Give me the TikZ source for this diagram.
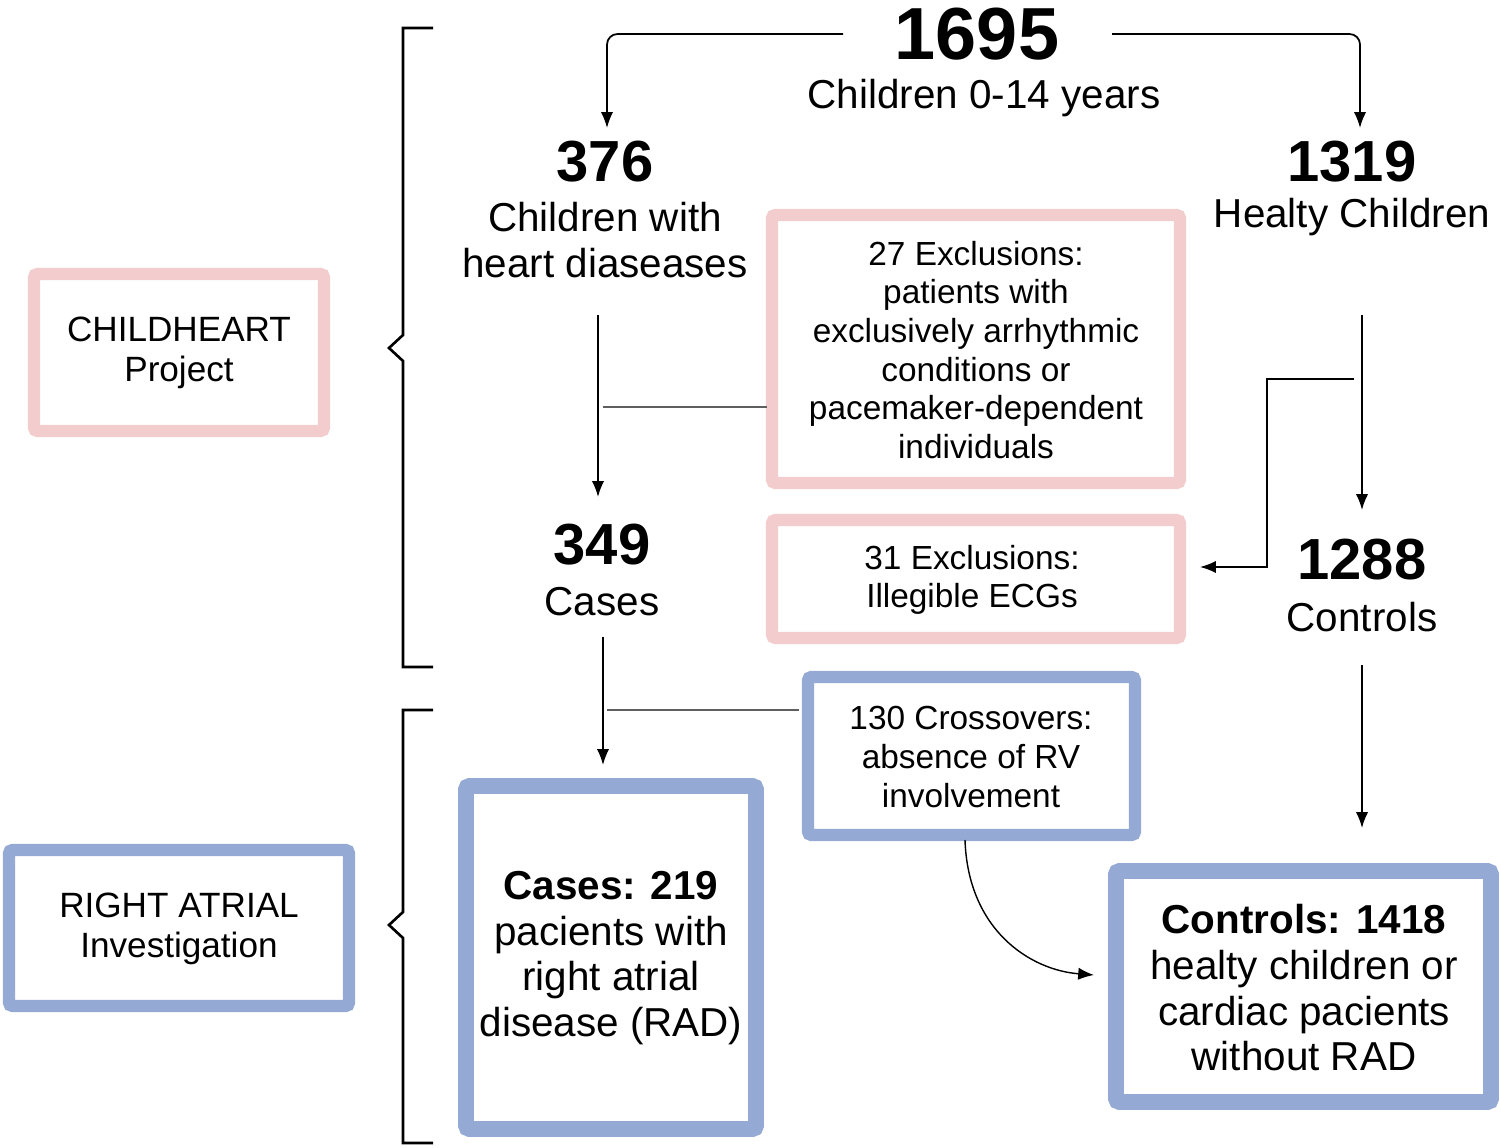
\documentclass[tikz,border=0pt]{standalone}
\usepackage{fontspec}
\setmainfont{Liberation Sans}
\usetikzlibrary{arrows.meta,positioning}
\definecolor{pinkbox}{RGB}{243,205,205}
\definecolor{bluebox}{RGB}{148,170,212}
\definecolor{lgray}{RGB}{95,95,95}
\begin{document}
\begin{tikzpicture}[x=0.02cm,y=-0.02cm,
        pinkframe/.style={draw=pinkbox, line width=7pt, rounded corners=2pt},
        blueframe/.style={draw=bluebox, line width=7pt, rounded corners=2pt},
        boxtext/.style={align=center, font=\fontsize{19}{22}\selectfont},
        sidetext/.style={align=center, font=\fontsize{20}{23}\selectfont},
        bignum/.style={font=\fontsize{33}{36}\selectfont\bfseries},
        subtext/.style={align=center, font=\fontsize{23}{26}\selectfont},
        arr/.style={-{Latex[length=9pt,width=7pt]}, line width=1pt},
        side/.style={draw=lgray, line width=1.2pt}]
    \useasboundingbox (0,0) rectangle (1501,1148);

    % frames
    \draw[pinkframe] (34,274) rectangle (324,431);
    \draw[blueframe] (9,850) rectangle (349,1006);
    \draw[pinkframe] (772,215) rectangle (1180,483);
    \draw[pinkframe] (772,520) rectangle (1180,638);
    \draw[blueframe] (808,677) rectangle (1135,835);
    \draw[blueframe, line width=9pt] (466,786) rectangle (756,1129);
    \draw[blueframe, line width=9pt] (1116,871) rectangle (1491,1102);

    % texts
    \node (childheart) [sidetext] at (179,353) {CHILDHEART\\Project};
    \node (rightatrial) [sidetext] at (179,929) {RIGHT ATRIAL\\Investigation};
    \node (total) [font=\fontsize{42}{46}\selectfont\bfseries] at (977,34) {1695};
    \node (totaltxt) [subtext] at (984,98) {Children 0-14 years};
    \node (heart) [bignum] at (605,162) {376};
    \node (hearttxt) [subtext] at (605,240) {Children with\\heart diaseases};
    \node (healthy) [bignum] at (1352,162) {1319};
    \node (healthytxt) [subtext] at (1352,217) {Healty Children};
    \node (excl27) [boxtext] at (976,350) {27 Exclusions:\\patients with\\exclusively arrhythmic\\conditions or\\pacemaker-dependent\\individuals};
    \node (cases) [bignum] at (602,545) {349};
    \node (casestxt) [subtext] at (602,602) {Cases};
    \node (excl31) [boxtext] at (972,580) {31 Exclusions:\\Illegible ECGs};
    \node (controls) [bignum] at (1362,560) {1288};
    \node (controlstxt) [subtext] at (1362,617) {Controls};
    \node (cross) [boxtext] at (971,757) {130 Crossovers:\\absence of RV\\involvement};
    \node (rad) [subtext] at (611,958) {\textbf{Cases: 219}\\pacients with\\right atrial\\disease (RAD)};
    \node (norad) [subtext] at (1304,988) {\textbf{Controls: 1418}\\healty children or\\cardiac pacients\\without RAD};

    % brackets
    \draw[line width=1.5pt] (433,28) -- (403,28) -- (403,335) -- (389,348) -- (403,361) -- (403,667) -- (433,667);
    \draw[line width=1.5pt] (433,710) -- (403,710) -- (403,912) -- (389,925) -- (403,938) -- (403,1143) -- (433,1143);

    % connectors
    \draw[arr, rounded corners=6pt] (843,34) -- (607,34) -- (607,128);
    \draw[arr, rounded corners=6pt] (1112,34) -- (1360,34) -- (1360,128);
    \draw[arr] (598,315) -- (598,497);
    \draw[side] (603,407) -- (767,407);
    \draw[arr] (1362,315) -- (1362,510);
    \draw[arr] (1354,379) -- (1267,379) -- (1267,567) -- (1200,567);
    \draw[arr] (603,637) -- (603,765);
    \draw[side] (607,710) -- (799,710);
    \draw[arr] (1362,665) -- (1362,828);
    \draw[arr, line width=0.8pt] (965,840) .. controls (968,930) and (1030,970) .. (1094,975);
\end{tikzpicture}
\end{document}
